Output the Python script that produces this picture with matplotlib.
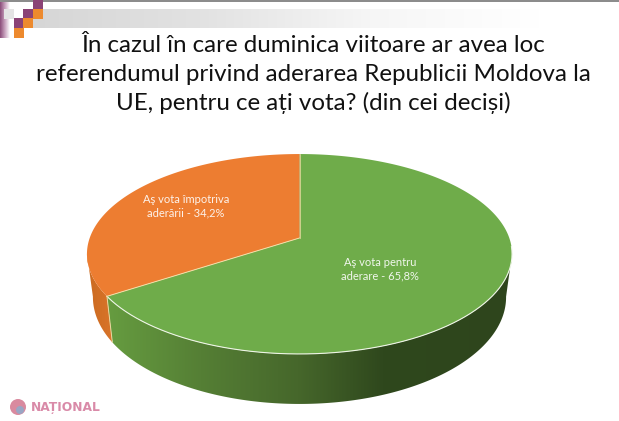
import numpy as np
import matplotlib
matplotlib.use("Agg")
import matplotlib.pyplot as plt
from matplotlib.patches import Polygon, Rectangle, Circle
from matplotlib.colors import LinearSegmentedColormap

title_lines = ["În cazul în care duminica viitoare ar avea loc",
               "referendumul privind aderarea Republicii Moldova la",
               "UE, pentru ce ați vota? (din cei deciși)"]
categories = ["Aş vota pentru\naderare - 65,8%", "Aş vota împotriva\naderării - 34,2%"]
values = [65.8, 34.2]
colors = ["#6fac4a", "#ed7d31"]

W, H = 619, 421
fig = plt.figure(figsize=(W/100, H/100), dpi=100, facecolor="white")
ax = fig.add_axes([0, 0, 1, 1])
ax.axis("off")

# ---- slide decoration
band = np.linspace(0, 1, 256).reshape(1, -1)
cm_band = LinearSegmentedColormap.from_list("b", ["#d6d6d6", "#e2e2e2", "#f6f6f6", "#ffffff"])
ax.imshow(band, extent=(30, 540, 28, 9), cmap=cm_band, aspect="auto", zorder=1)
cm_left = LinearSegmentedColormap.from_list("l", ["#8a4a78", "#c9a3bf", "#ffffff"])
ax.imshow(band, extent=(0, 10, 38, 0), cmap=cm_left, aspect="auto", zorder=1)
ax.add_patch(Rectangle((0, 0), W, 2, fc="#8c8c8c", ec="none", zorder=2))
squares = [(33, 0, "#8b4376"), (33, 9, "#ed8a2e"), (23, 9, "#8b4376"), (4, 9, "#e4e4e4"),
           (14, 18, "#8b4376"), (23, 18, "#ed8a2e"), (14, 28, "#ed8a2e")]
for x, y, c in squares:
    ax.add_patch(Rectangle((x, y), 9.5, 9.5, fc=c, ec="none", zorder=3))

# ---- title
for y, line in zip([46, 74.5, 103], title_lines):
    ax.text(313.5, y, line, ha="center", va="center", fontsize=17.4,
            family="Lato", color="#111111", zorder=5)

# ---- perspective pie
cx, cy, A, B, k, depth, shrink = 299.5, 238.0, 209.8, 97.4, 0.16, 42.0, 0.972

def rim(theta_deg, bottom=False):
    t = np.radians(theta_deg)
    w = 1 + k*np.cos(t)
    x = A*np.sin(t)/w
    y = -B*np.cos(t)/w
    if bottom:
        return cx + shrink*x, cy + y + depth/w
    return cx + x, cy + y

angles = np.cumsum([0] + [v*3.6 for v in values])

# side wall: one gradient per slice, clipped to the wall outline
grad = np.linspace(0, 1, 512).reshape(1, -1)
cm_green = LinearSegmentedColormap.from_list(
    "g", [(0, "#669c40"), (0.23, "#557f35"), (0.47, "#46672b"), (0.68, "#2f481d"), (1, "#2e451c")])
cm_orange = LinearSegmentedColormap.from_list("o", ["#c9691f", "#d9742a"])

def wall(a, b):
    th = np.linspace(a, b, 200)
    tx, ty = rim(th)
    bx, by = rim(th, True)
    return np.r_[np.c_[tx, ty], np.c_[bx, by][::-1]]

green_wall = Polygon(wall(99, angles[1]), closed=True, fc="none", ec="none", transform=ax.transData)
orange_wall = Polygon(wall(angles[1], 261), closed=True, fc="none", ec="none", transform=ax.transData)
ax.add_patch(green_wall); ax.add_patch(orange_wall)
g_im = ax.imshow(grad, extent=(107, 513, 410, 230), cmap=cm_green, aspect="auto", zorder=6)
g_im.set_clip_path(green_wall)
o_im = ax.imshow(grad, extent=(85, 112, 345, 240), cmap=cm_orange, aspect="auto", zorder=6)
o_im.set_clip_path(orange_wall)

# top face
for i, col in enumerate(colors):
    th = np.linspace(angles[i], angles[i+1], 300)
    px, py = rim(th)
    ax.add_patch(Polygon(np.r_[[(cx, cy)], np.c_[px, py]], closed=True, fc=col, ec="none", zorder=7))

# rim highlight and divider lines
th = np.linspace(95, angles[1], 200)
ax.plot(*rim(th), color="#eef5e6", lw=0.8, zorder=8)
bx, by = rim(angles[1])
ax.plot([cx, bx], [cy, by], color="#f5dfa8", lw=0.7, zorder=8)
ax.plot([cx, cx], [cy, rim(0)[1]], color="#f5dfa8", lw=0.5, zorder=8)
bx2, by2 = rim(angles[1], True)
ax.plot([bx, bx2], [by, by2], color="#e8d8a0", lw=0.7, zorder=8)

# data labels
ax.text(380, 269.5, categories[0], ha="center", va="center", color="#ffffff", alpha=0.9,
        fontsize=8.0, family="Lato", linespacing=1.3, zorder=9)
ax.text(186, 206, categories[1], ha="center", va="center", color="#ffffff", alpha=0.9,
        fontsize=8.0, family="Lato", linespacing=1.3, zorder=9)

# ---- logo
ax.add_patch(Circle((18, 407), 8, fc="#d98a9f", ec="none", zorder=5))
ax.add_patch(Circle((20, 410), 4, fc="#9aa6c4", ec="none", zorder=6))
ax.text(31, 408, "NAȚIONAL", ha="left", va="center", fontsize=8.8, fontweight="bold",
        family="DejaVu Sans", color="#d98aa8", zorder=5)

ax.set_xlim(0, W); ax.set_ylim(H, 0)
fig.savefig("out.png", dpi=100, facecolor="white")
